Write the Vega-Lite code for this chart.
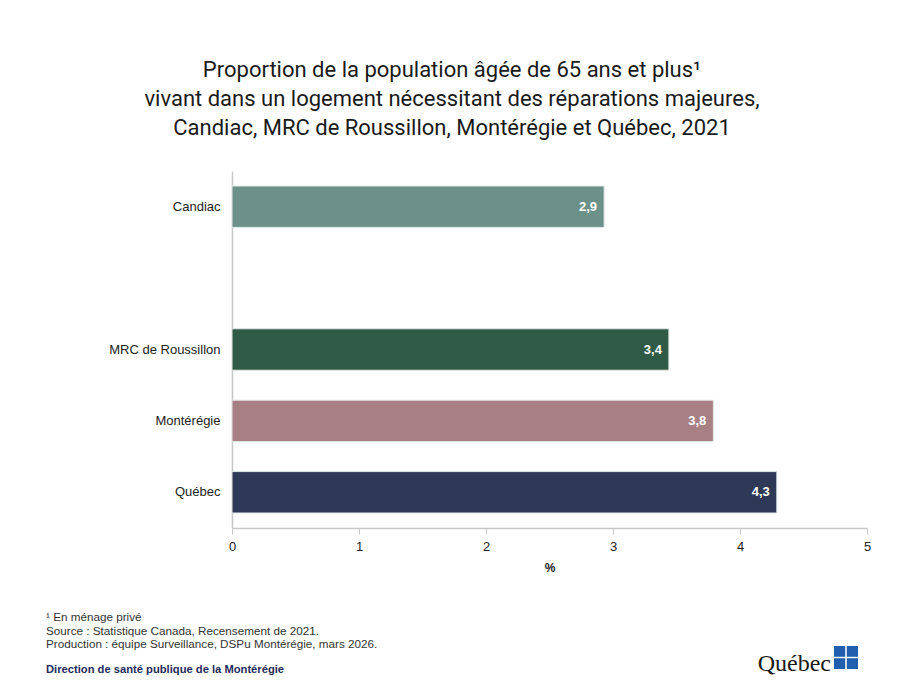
{
  "$schema": "https://vega.github.io/schema/vega-lite/v6.json",
  "background": "white",
  "padding": {"left": 46, "top": 59, "right": 30, "bottom": 10},
  "config": {
    "locale": {"number": {"decimal": ",", "thousands": " ", "grouping": [3], "currency": ["", " $"]}},
    "view": {"stroke": null},
    "font": "Liberation Sans"
  },
  "title": {
    "text": ["Proportion de la population âgée de 65 ans et plus¹", "vivant dans un logement nécessitant des réparations majeures,", "Candiac, MRC de Roussillon, Montérégie et Québec, 2021"],
    "anchor": "middle",
    "frame": "group",
    "dx": 220,
    "font": "Roboto",
    "fontSize": 22,
    "fontWeight": "normal",
    "lineHeight": 29,
    "color": "#1a1a1a",
    "offset": 31
  },
  "bounds": "flush",
  "spacing": 118,
  "vconcat": [
    {
      "width": 635,
      "height": 357,
      "data": {"values": [
        {"territoire": "Candiac", "pourcentage": 2.93},
        {"territoire": "MRC de Roussillon", "pourcentage": 3.44},
        {"territoire": "Montérégie", "pourcentage": 3.79},
        {"territoire": "Québec", "pourcentage": 4.29}
      ]},
      "title": {
        "text": ["¹ En ménage privé", "Source : Statistique Canada, Recensement de 2021.", "Production : équipe Surveillance, DSPu Montérégie, mars 2026."],
        "subtitle": "Direction de santé publique de la Montérégie",
        "orient": "bottom",
        "anchor": "start",
        "frame": "group",
        "dx": -186,
        "offset": 39,
        "font": "Liberation Sans",
        "fontSize": 11.7,
        "fontWeight": "normal",
        "lineHeight": 13.5,
        "color": "#333333",
        "subtitleFont": "Liberation Sans",
        "subtitleFontSize": 11.2,
        "subtitleFontWeight": "bold",
        "subtitleColor": "#1f2a5c",
        "subtitlePadding": 13
      },
      "encoding": {
        "y": {
          "field": "territoire",
          "type": "nominal",
          "sort": null,
          "scale": {"domain": ["Candiac", "", "MRC de Roussillon", "Montérégie", "Québec"], "paddingInner": 0.42, "paddingOuter": 0.21},
          "axis": {"title": null, "ticks": false, "labelFontSize": 13, "labelColor": "#222222", "labelPadding": 12, "domainColor": "#c8c8c8", "domainWidth": 1.5}
        },
        "x": {
          "field": "pourcentage",
          "type": "quantitative",
          "scale": {"domain": [0, 5], "nice": false},
          "axis": {"title": "%", "values": [0, 1, 2, 3, 4, 5], "format": "d", "grid": false, "labelFlush": false, "labelFontSize": 13, "labelColor": "#222222", "labelPadding": 6, "tickColor": "#c8c8c8", "tickSize": 6, "domainColor": "#c8c8c8", "domainWidth": 1.5, "titleFontSize": 12, "titleFontWeight": "bold", "titleColor": "#222222", "titlePadding": 9}
        }
      },
      "layer": [
        {
          "mark": {"type": "bar", "stroke": "#e2e8e5", "strokeWidth": 1},
          "encoding": {
            "color": {
              "field": "territoire",
              "type": "nominal",
              "scale": {"domain": ["Candiac", "MRC de Roussillon", "Montérégie", "Québec"], "range": ["#6b9189", "#2f5a45", "#a77f84", "#2e3857"]},
              "legend": null
            }
          }
        },
        {
          "mark": {"type": "text", "align": "right", "baseline": "middle", "dx": -7, "color": "white", "fontSize": 13, "fontWeight": "bold"},
          "encoding": {"text": {"field": "pourcentage", "type": "quantitative", "format": ".1f"}}
        }
      ]
    },
    {
      "width": 626,
      "height": 23,
      "data": {"values": [
        {"colonne": "g", "rang": "h"},
        {"colonne": "d", "rang": "h"},
        {"colonne": "g", "rang": "b"},
        {"colonne": "d", "rang": "b"}
      ]},
      "title": {
        "text": "Québec",
        "anchor": "end",
        "frame": "group",
        "dx": -27,
        "offset": -30,
        "font": "Liberation Serif",
        "fontSize": 24,
        "fontWeight": "normal",
        "color": "#1a1a1a"
      },
      "mark": {"type": "rect", "color": "#1f5fae"},
      "encoding": {
        "x": {"field": "colonne", "type": "nominal", "sort": ["g", "d"], "axis": null, "scale": {"rangeMin": 602, "paddingInner": 0.12, "paddingOuter": 0}},
        "y": {"field": "rang", "type": "nominal", "sort": ["h", "b"], "axis": null, "scale": {"paddingInner": 0.12, "paddingOuter": 0}}
      }
    }
  ]
}
